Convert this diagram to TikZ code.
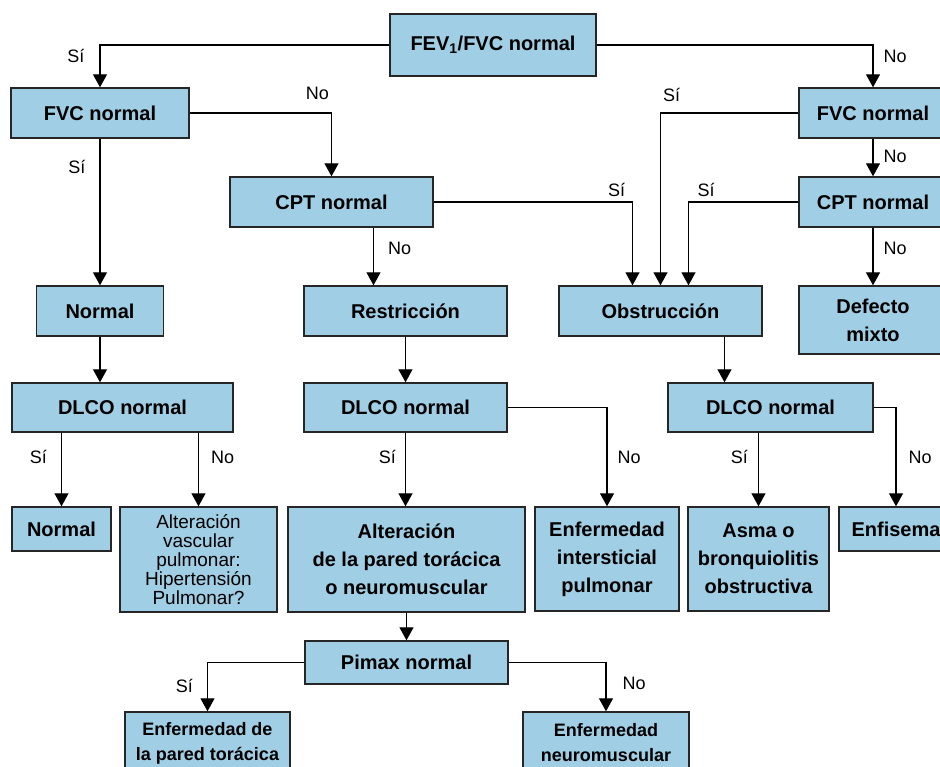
\documentclass[tikz,border=0pt]{standalone}
\usepackage{fontspec}
\setmainfont{Liberation Sans}
\usetikzlibrary{arrows.meta}
\definecolor{boxblue}{RGB}{160,206,228}

\begin{document}
\begin{tikzpicture}[x=1pt, y=-1pt,
  box/.style={rectangle, draw=black!85, line width=1.4pt, fill=boxblue, inner sep=0pt,
              align=center, font=\bfseries\fontsize{20}{28}\selectfont},
  boxs/.style={box, font=\fontsize{19}{19}\selectfont},
  boxn/.style={box, font=\bfseries\fontsize{18}{25}\selectfont},
  lbl/.style={inner sep=0pt, font=\fontsize{18}{20}\selectfont},
  arr/.style={-{Triangle[length=13pt, width=14pt]}, line width=1.2pt}
]
\useasboundingbox (0,0) rectangle (940,766);
\clip (0,0) rectangle (940,766);

\node[box, minimum width=206pt, minimum height=62pt] (fev) at (493,45) {FEV\textsubscript{1}/FVC normal};
\node[box, minimum width=178pt, minimum height=50pt] (fvcL) at (100,113) {FVC normal};
\node[box, minimum width=148pt, minimum height=50pt] (fvcR) at (873,113) {FVC normal};
\node[box, minimum width=203pt, minimum height=50pt] (cptM) at (331.5,202) {CPT normal};
\node[box, minimum width=148pt, minimum height=50pt] (cptR) at (873,202) {CPT normal};
\node[box, minimum width=127pt, minimum height=50pt] (normA) at (100,311) {Normal};
\node[box, minimum width=203pt, minimum height=50pt] (restr) at (405.5,311) {Restricción};
\node[box, minimum width=203pt, minimum height=50pt] (obst) at (660.5,311) {Obstrucción};
\node[box, minimum width=148pt, minimum height=68pt] (defm) at (873,320) {Defecto\\mixto};
\node[box, minimum width=221pt, minimum height=49pt] (dlcoL) at (122.5,407.5) {DLCO normal};
\node[box, minimum width=203pt, minimum height=49pt] (dlcoM) at (405.5,407.5) {DLCO normal};
\node[box, minimum width=205pt, minimum height=49pt] (dlcoR) at (770.5,407.5) {DLCO normal};
\node[box, minimum width=99pt, minimum height=44pt] (normB) at (61.5,529) {Normal};
\node[boxs, minimum width=157pt, minimum height=105pt] (altv) at (198.5,559.5) {Alteración\\vascular\\pulmonar:\\Hipertensión\\Pulmonar?};
\node[box, minimum width=237pt, minimum height=105pt] (altp) at (406.5,559.5) {Alteración\\de la pared torácica\\o neuromuscular};
\node[box, minimum width=144pt, minimum height=104pt] (intr) at (607,559) {Enfermedad\\intersticial\\pulmonar};
\node[box, minimum width=141pt, minimum height=104pt] (asma) at (758.5,559) {Asma o\\bronquiolitis\\obstructiva};
\node[box, minimum width=114pt, minimum height=44pt] (enfi) at (896,529) {Enfisema};
\node[box, minimum width=203pt, minimum height=43pt] (pimax) at (406.5,662.5) {Pimax normal};
\node[boxn, minimum width=165pt, minimum height=62pt] (enfp) at (207.5,743) {Enfermedad de\\la pared torácica};
\node[boxn, minimum width=166pt, minimum height=62pt] (enfn) at (606,743) {Enfermedad\\neuromuscular};

\draw[arr] (fev.west) -| (fvcL.north) node[lbl, pos=0.63, left=15pt] {Sí};
\draw[arr] (fev.east) -| (fvcR.north) node[lbl, pos=0.64, right=10pt] {No};
\draw[arr] (fvcL.east) -| (cptM.north) node[lbl, pos=0.45, above=13pt] {No};
\draw[arr] (fvcL.south) -- (fvcL.south |- normA.north) node[lbl, pos=0.19, left=14pt] {Sí};
\draw[arr] ([xshift=42pt]cptM.south) -- ([xshift=42pt]cptM.south |- restr.north) node[lbl, pos=0.36, right=14pt] {No};
\draw[arr] (cptM.east) -| ([xshift=-28pt]obst.north) node[lbl, pos=0.46, above=5pt] {Sí};
\draw[arr] (fvcR.west) -| (obst.north) node[lbl, pos=0.46, above=11pt] {Sí};
\draw[arr] (cptR.west) -| ([xshift=28pt]obst.north) node[lbl, pos=0.42, above=5pt] {Sí};
\draw[arr] (fvcR.south) -- (cptR.north) node[lbl, pos=0.46, right=10pt] {No};
\draw[arr] (cptR.south) -- (defm.north) node[lbl, pos=0.36, right=10pt] {No};
\draw[arr] (normA.south) -- (normA.south |- dlcoL.north);
\draw[arr] (restr.south) -- (dlcoM.north);
\draw[arr] ([xshift=64pt]obst.south) -- ([xshift=64pt]obst.south |- dlcoR.north);
\draw[arr] (normB.north |- dlcoL.south) -- (normB.north) node[lbl, pos=0.33, left=14pt] {Sí};
\draw[arr] (altv.north |- dlcoL.south) -- (altv.north) node[lbl, pos=0.33, right=12pt] {No};
\draw[arr] (dlcoM.south) -- (dlcoM.south |- altp.north) node[lbl, pos=0.33, left=9pt] {Sí};
\draw[arr] (dlcoM.east) -| (intr.north) node[lbl, pos=0.75, right=10pt] {No};
\draw[arr] (asma.north |- dlcoR.south) -- (asma.north) node[lbl, pos=0.33, left=10pt] {Sí};
\draw[arr] (dlcoR.east) -| (enfi.north) node[lbl, pos=0.75, right=12pt] {No};
\draw[arr] (altp.south) -- (pimax.north);
\draw[arr] (pimax.west) -| (enfp.north) node[lbl, pos=0.74, left=14pt] {Sí};
\draw[arr] (pimax.east) -| (enfn.north) node[lbl, pos=0.71, right=16pt] {No};
\end{tikzpicture}
\end{document}
